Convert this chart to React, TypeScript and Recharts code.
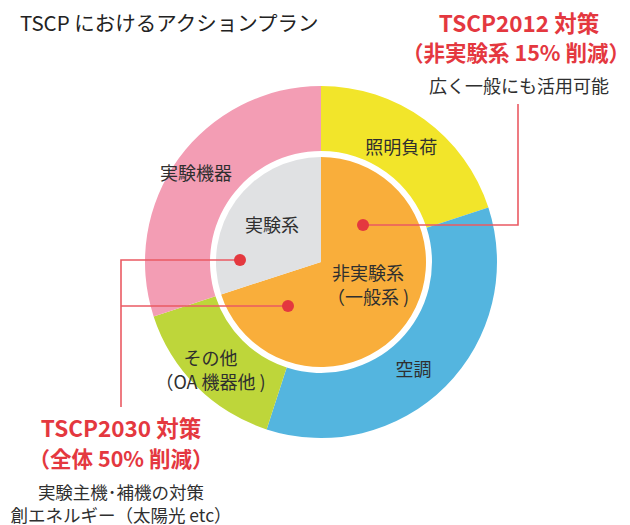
import React from 'react';
import { PieChart, Pie, Cell } from 'recharts';

const OUTER_NAMES = ['照明負荷', '空調', 'その他', '実験機器'];
const OUTER_VALUES = [20, 35, 15, 30];
const OUTER_LABEL_LINES = [['照明負荷'], ['空調'], ['その他', '（OA 機器他 )'], ['実験機器']];
const INNER_NAMES = ['非実験系', '実験系'];
const INNER_VALUES = [70, 30];
const INNER_LABEL_LINES = [['非実験系', '（一般系 )'], ['実験系']];
const TITLE = 'TSCP におけるアクションプラン';
const NOTE_2012 = ['TSCP2012 対策', '（非実験系 15% 削減）', '広く一般にも活用可能'];
const NOTE_2030 = ['TSCP2030 対策', '（全体 50% 削減）', '実験主機･補機の対策', '創エネルギー（太陽光 etc）'];

const OUTER_COLORS = ['#F2E52A', '#54B5DF', '#BED63A', '#F39DB4'];
const INNER_COLORS = ['#F9AE3B', '#E0E1E3'];
const RED = '#E4383F';
const LINE = '#EA5A63';
const FONT = '"Noto Sans CJK JP", "Noto Sans", sans-serif';
const TEXT = '#2f2f2f';

const outerData = OUTER_NAMES.map((name, i) => ({ name, value: OUTER_VALUES[i], lines: OUTER_LABEL_LINES[i] }));
const innerData = INNER_NAMES.map((name, i) => ({ name, value: INNER_VALUES[i], lines: INNER_LABEL_LINES[i] }));

const OUTER_NUDGE = [[-4, 0], [-9, 5], [-9, 6], [-9, -6]];
const INNER_NUDGE = [[-4, -15], [2, -1]];
const RAD = Math.PI / 180;

const makeLabel = (nudges: number[][], radiusFn: (ir: number, or: number) => number) => (props: any) => {
  const { cx, cy, midAngle, innerRadius, outerRadius, index, payload } = props;
  const r = radiusFn(innerRadius, outerRadius);
  const x = cx + r * Math.cos(-midAngle * RAD) + nudges[index][0];
  const y = cy + r * Math.sin(-midAngle * RAD) + nudges[index][1];
  const lines: string[] = (payload && payload.lines) || props.lines || [props.name];
  const gap = 24;
  const y0 = y - ((lines.length - 1) * gap) / 2;
  return (
    <text x={x} y={y0} textAnchor="middle" dominantBaseline="central" fontSize={18} fill={TEXT} fontFamily={FONT}>
      {lines.map((l, k) => (
        <tspan key={k} x={x} y={y0 + k * gap} dominantBaseline="central">{l}</tspan>
      ))}
    </text>
  );
};

const outerLabel = makeLabel(OUTER_NUDGE, (ir, or) => (ir + or) / 2);
const innerLabel = makeLabel(INNER_NUDGE, (_ir, or) => or * 0.6);

export default function App() {
  return (
    <div style={{ position: 'absolute', left: 0, top: 0, width: 630, height: 525, background: '#fff' }}>
      <style>{`.outer-ring .recharts-pie-sectors { filter: drop-shadow(2px 3px 3px rgba(0,0,0,0.22)); }`}</style>
      <PieChart width={630} height={525} margin={{ top: 0, right: 0, bottom: 0, left: 0 }}>
        <Pie
          className="outer-ring"
          data={outerData}
          dataKey="value"
          nameKey="name"
          cx={321}
          cy={262}
          innerRadius={111}
          outerRadius={176}
          startAngle={90}
          endAngle={-270}
          stroke="none"
          labelLine={false}
          label={outerLabel}
          isAnimationActive={false}
        >
          {outerData.map((d, i) => (
            <Cell key={d.name} fill={OUTER_COLORS[i]} />
          ))}
        </Pie>
        <Pie
          data={innerData}
          dataKey="value"
          nameKey="name"
          cx={321}
          cy={262}
          innerRadius={0}
          outerRadius={105}
          startAngle={90}
          endAngle={-270}
          stroke="none"
          labelLine={false}
          label={innerLabel}
          isAnimationActive={false}
        >
          {innerData.map((d, i) => (
            <Cell key={d.name} fill={INNER_COLORS[i]} />
          ))}
        </Pie>
      </PieChart>
      <svg width={630} height={525} style={{ position: 'absolute', left: 0, top: 0, pointerEvents: 'none' }}>
        <text x={20} y={22} dominantBaseline="central" fontSize={20.5} fill="#222" fontFamily={FONT}>{TITLE}</text>

        <polyline points="363,225 518,225 518,104" fill="none" stroke={LINE} strokeWidth={1.6} />
        <polyline points="240,260 121,260 121,407" fill="none" stroke={LINE} strokeWidth={1.6} />
        <polyline points="288,306 121,306" fill="none" stroke={LINE} strokeWidth={1.6} />
        <circle cx={363} cy={225} r={6} fill={RED} />
        <circle cx={240} cy={260} r={6} fill={RED} />
        <circle cx={288} cy={306} r={6} fill={RED} />

        <text x={519} y={22} textAnchor="middle" dominantBaseline="central" fontSize={22.5} fontWeight={700} fill={RED} fontFamily={FONT}>{NOTE_2012[0]}</text>
        <text x={516} y={51} textAnchor="middle" dominantBaseline="central" fontSize={21.5} fontWeight={700} fill={RED} fontFamily={FONT}>{NOTE_2012[1]}</text>
        <text x={519} y={85} textAnchor="middle" dominantBaseline="central" fontSize={18} fill={TEXT} fontFamily={FONT}>{NOTE_2012[2]}</text>

        <text x={121} y={427} textAnchor="middle" dominantBaseline="central" fontSize={22.5} fontWeight={700} fill={RED} fontFamily={FONT}>{NOTE_2030[0]}</text>
        <text x={121} y={457} textAnchor="middle" dominantBaseline="central" fontSize={21.5} fontWeight={700} fill={RED} fontFamily={FONT}>{NOTE_2030[1]}</text>
        <text x={121} y={491} textAnchor="middle" dominantBaseline="central" fontSize={17.5} fill={TEXT} fontFamily={FONT}>{NOTE_2030[2]}</text>
        <text x={121} y={514} textAnchor="middle" dominantBaseline="central" fontSize={17.5} fill={TEXT} fontFamily={FONT}>{NOTE_2030[3]}</text>
      </svg>
    </div>
  );
}
